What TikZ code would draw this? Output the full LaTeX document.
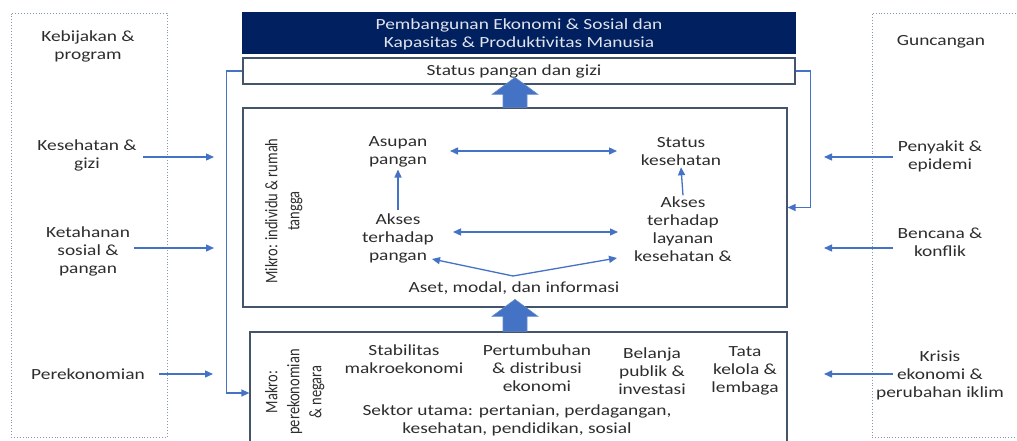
\documentclass[tikz,border=0pt]{standalone}
\usepackage{fontspec}
\usepackage{graphicx}
\setmainfont{Carlito}[FakeStretch=1.25]
\newfontfamily\rotfont{Carlito}
\usetikzlibrary{arrows.meta}
\definecolor{navy}{RGB}{0,32,96}
\definecolor{lineblue}{RGB}{68,114,196}
\definecolor{arrowedge}{RGB}{100,140,205}
\definecolor{boxedge}{RGB}{68,84,106}
\definecolor{dotedge}{RGB}{132,151,176}
\definecolor{txtc}{RGB}{45,45,45}
\definecolor{titletxt}{RGB}{225,228,235}
\newcommand{\rotlabel}[1]{\scalebox{1}[1.22]{\begin{tabular}{@{}c@{}}#1\end{tabular}}}
\tikzset{
  txt/.style={font=\fontsize{15.5}{18}\selectfont, text=txtc, align=center, inner sep=0pt},
  rottxt/.style={font=\rotfont\fontsize{14.5}{18}\selectfont, text=txtc, inner sep=0pt, rotate=90},
  box/.style={draw=boxedge, line width=1.2pt, fill=white, inner sep=0pt},
  dotbox/.style={draw=dotedge, dotted, line width=0.9pt, inner sep=0pt},
  conn/.style={draw=lineblue, line width=1.3pt, -{Triangle[length=8pt,width=7pt]}},
  dconn/.style={draw=lineblue, line width=1.3pt, {Triangle[length=8pt,width=7pt]}-{Triangle[length=8pt,width=7pt]}},
  bigarrow/.style={fill=lineblue, draw=arrowedge, line width=0.6pt, line join=miter}
}
\begin{document}
\begin{tikzpicture}[x=1pt,y=-1pt]
\useasboundingbox (0,0) rectangle (1017,441);
\fill[white] (0,0) rectangle (1017,441);
% side dotted boxes
\node[dotbox, minimum width=156pt, minimum height=424pt] (leftbox) at (89,225) {};
\node[dotbox, minimum width=160pt, minimum height=424pt] (rightbox) at (952,225) {};
% main boxes
\node[box, draw=navy, fill=navy, minimum width=552pt, minimum height=40pt] (title) at (519,33) {};
\node[txt, text=titletxt] (titletext) at (519,34) {Pembangunan Ekonomi \& Sosial dan\\Kapasitas \& Produktivitas Manusia};
\node[box, minimum width=552pt, minimum height=26pt] (status) at (519,71) {};
\node[box, minimum width=544pt, minimum height=199pt] (mikro) at (515,207.5) {};
\node[box, minimum width=537pt, minimum height=122pt] (makro) at (518.5,393) {};
\node[txt] (statustext) at (514,71) {Status pangan dan gizi};
% big arrows (mikro -> status, makro -> mikro)
\draw[bigarrow] (mikro.north) ++(-12,0) -- ++(0,-13) -- ++(-11,0) -- ++(23,-17) -- ++(23,17) -- ++(-11,0) -- ++(0,13) -- cycle;
\draw[bigarrow] (makro.north -| mikro.north) ++(-12,0) -- ++(0,-15) -- ++(-11,0) -- ++(23,-17) -- ++(23,17) -- ++(-11,0) -- ++(0,15) -- cycle;
% feedback connectors
\draw[conn] (status.west) -- ++(-16,0) |- (makro.west);
\draw[conn] (status.east) -- ++(15,0) |- (mikro.east);
% left texts
\node[txt] (kebijakan) at (88,46) {Kebijakan \&\\program};
\node[txt] (kesehatan) at (87,155) {Kesehatan \&\\gizi};
\node[txt] (ketahanan) at (88,251) {Ketahanan\\sosial \&\\pangan};
\node[txt] (perekonomian) at (88,374) {Perekonomian};
\coordinate (lt1) at (214,157);
\coordinate (lt2) at (214,248);
\coordinate (lt3) at (213,374);
\draw[conn] (kesehatan.east |- lt1) ++(6,0) -- (lt1);
\draw[conn] (ketahanan.east |- lt2) ++(4,0) -- (lt2);
\draw[conn] (perekonomian.east) ++(14,0) -- (lt3);
% right texts
\node[txt] (guncangan) at (941,42) {Guncangan};
\node[txt] (penyakit) at (940,156) {Penyakit \&\\epidemi};
\node[txt] (bencana) at (940,242) {Bencana \&\\konflik};
\node[txt] (krisis) at (940,375) {Krisis\\ekonomi \&\\perubahan iklim};
\coordinate (rt1) at (824,157);
\coordinate (rt2) at (824,248);
\coordinate (rt3) at (824,374);
\coordinate (rs1) at (893,157);
\coordinate (rs2) at (893,248);
\coordinate (rs3) at (893,374);
\draw[conn] (rs1) -- (rt1);
\draw[conn] (rs2) -- (rt2);
\draw[conn] (rs3) -- (rt3);
% mikro content
\node[rottxt] (mikrolabel) at (284,211) {\rotlabel{Mikro: individu \& rumah\\tangga}};
\node[txt] (asupan) at (398,152) {Asupan\\pangan};
\node[txt] (statkes) at (681,152) {Status\\kesehatan};
\node[txt] (aksesp) at (398,238) {Akses\\terhadap\\pangan};
\node[txt] (aksesl) at (683,229) {Akses\\terhadap\\layanan\\kesehatan \&};
\node[txt] (aset) at (514,288) {Aset, modal, dan informasi};
\coordinate (ab1) at (450,151);
\coordinate (ab2) at (617,151);
\draw[dconn] (ab1) -- (ab2);
\draw[conn] ([yshift=3pt]aksesp.north) -- ([yshift=-2pt]asupan.south);
\draw[conn] ([yshift=1pt]aksesl.north) -- ([yshift=-1pt]statkes.south);
\coordinate (mb1) at (453,232);
\coordinate (mb2) at (618,232);
\draw[dconn] (mb1) -- (mb2);
\coordinate (vtx) at (513,276);
\coordinate (vl) at (432,259);
\coordinate (vr) at (617,258);
\draw[conn] (vtx) -- (vl);
\draw[conn] (vtx) -- (vr);
% makro content
\node[rottxt] (makrolabel) at (295,392) {\rotlabel{Makro:\\perekonomian\\\& negara}};
\node[txt] (stabilitas) at (404,359) {Stabilitas\\makroekonomi};
\node[txt] (pertumbuhan) at (537,368) {Pertumbuhan\\\& distribusi\\ekonomi};
\node[txt] (belanja) at (652,371) {Belanja\\publik \&\\investasi};
\node[txt] (tata) at (745,371) {Tata\\kelola \&\\lembaga};
\node[txt] (sektor) at (517,420) {Sektor utama: pertanian, perdagangan,\\kesehatan, pendidikan, sosial};
\end{tikzpicture}
\end{document}
